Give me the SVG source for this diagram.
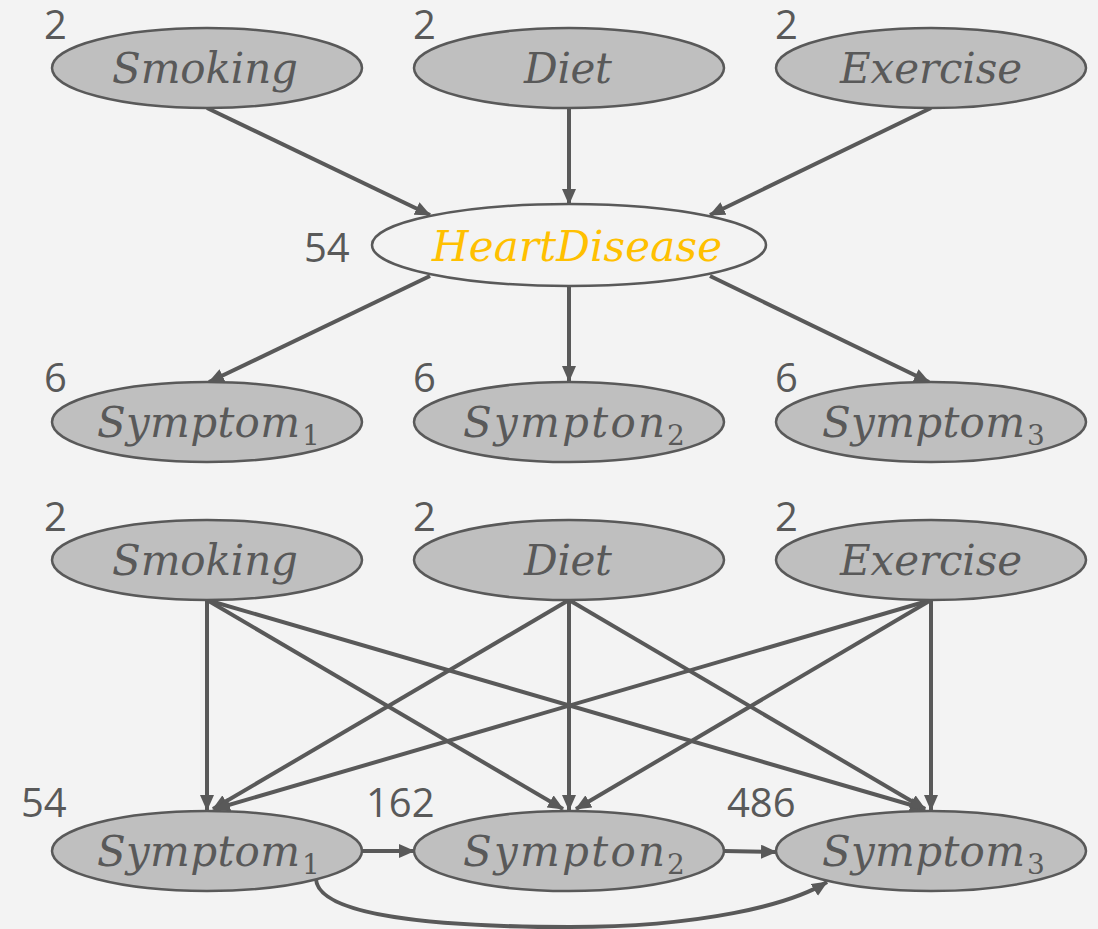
<svg xmlns="http://www.w3.org/2000/svg" width="1098" height="929" viewBox="0 0 1098 929">
  <style>
    .node { fill: #BFBFBF; stroke: #595959; stroke-width: 2.5; }
    .focus { fill: #F3F3F3; stroke: #595959; stroke-width: 2.5; }
    .lbl { font-family: "DejaVu Serif", "Liberation Serif", serif; font-style: italic; font-size: 42px; fill: #595959; }
    .hd { fill: #FFC000; }
    .sub { font-size: 28px; font-style: normal; }
    .num { font-family: "Open Sans", "Noto Sans", "DejaVu Sans", sans-serif; font-size: 40px; fill: #595959; }
    .edge { stroke: #595959; stroke-width: 4; fill: none; }
  </style>
  <defs>
    <marker id="arrow" markerUnits="userSpaceOnUse" markerWidth="16" markerHeight="14" refX="15" refY="7" orient="auto">
      <path d="M0,0 L16,7 L0,14 Z" fill="#595959"/>
    </marker>
  </defs>

  <rect x="0" y="0" width="1098" height="929" fill="#F3F3F3"/>

  <!-- edges -->
  <g id="edges" class="edge" marker-end="url(#arrow)">
    <!-- upper network -->
    <line x1="207" y1="108" x2="430" y2="215"/>
    <line x1="569" y1="108" x2="569" y2="204"/>
    <line x1="931" y1="108" x2="710" y2="215"/>
    <line x1="430" y1="276" x2="209" y2="382"/>
    <line x1="569" y1="287" x2="569" y2="381"/>
    <line x1="710" y1="276" x2="929" y2="382"/>
    <!-- lower network: every factor to every symptom -->
    <line x1="207" y1="600" x2="207" y2="810"/>
    <line x1="207" y1="600" x2="563" y2="809"/>
    <line x1="207" y1="600" x2="925" y2="809"/>
    <line x1="569" y1="600" x2="213" y2="809"/>
    <line x1="569" y1="600" x2="569" y2="810"/>
    <line x1="569" y1="600" x2="925" y2="809"/>
    <line x1="931" y1="600" x2="215" y2="809"/>
    <line x1="931" y1="600" x2="576" y2="809"/>
    <line x1="931" y1="600" x2="931" y2="810"/>
    <!-- chain between symptoms -->
    <line x1="362" y1="851" x2="414" y2="851"/>
    <line x1="724" y1="851" x2="776" y2="852"/>
    <path d="M316,879 C318,915 430,927 570,927 C700,927 790,905 827,882"/>
  </g>

  <!-- upper network nodes -->
  <g id="smoking-a">
    <ellipse class="node" cx="207" cy="68" rx="155" ry="40"/>
    <text class="lbl" x="112" y="83" textLength="186" lengthAdjust="spacing">Smoking</text>
    <text class="num" x="44" y="39">2</text>
  </g>
  <g id="diet-a">
    <ellipse class="node" cx="569" cy="68" rx="155" ry="40"/>
    <text class="lbl" x="524" y="83" textLength="88" lengthAdjust="spacing">Diet</text>
    <text class="num" x="413" y="39">2</text>
  </g>
  <g id="exercise-a">
    <ellipse class="node" cx="931" cy="68" rx="155" ry="40"/>
    <text class="lbl" x="840" y="83" textLength="182" lengthAdjust="spacing">Exercise</text>
    <text class="num" x="775" y="39">2</text>
  </g>
  <g id="heartdisease">
    <ellipse class="focus" cx="569" cy="245" rx="197" ry="41"/>
    <text class="lbl hd" x="432" y="261" textLength="290" lengthAdjust="spacing">HeartDisease</text>
    <text class="num" x="304" y="262">54</text>
  </g>
  <g id="symptom1-a">
    <ellipse class="node" cx="207" cy="422" rx="155" ry="40"/>
    <text class="lbl" x="97" y="437"><tspan textLength="203" lengthAdjust="spacing">Symptom</tspan><tspan class="sub" x="302" y="445">1</tspan></text>
    <text class="num" x="44" y="392">6</text>
  </g>
  <g id="symptom2-a">
    <ellipse class="node" cx="569" cy="422" rx="155" ry="40"/>
    <text class="lbl" x="463" y="437"><tspan textLength="202" lengthAdjust="spacing">Sympton</tspan><tspan class="sub" x="667" y="445">2</tspan></text>
    <text class="num" x="413" y="392">6</text>
  </g>
  <g id="symptom3-a">
    <ellipse class="node" cx="931" cy="422" rx="155" ry="40"/>
    <text class="lbl" x="822" y="437"><tspan textLength="203" lengthAdjust="spacing">Symptom</tspan><tspan class="sub" x="1027" y="445">3</tspan></text>
    <text class="num" x="775" y="392">6</text>
  </g>

  <!-- lower network nodes -->
  <g id="smoking-b">
    <ellipse class="node" cx="207" cy="560" rx="155" ry="40"/>
    <text class="lbl" x="112" y="575" textLength="186" lengthAdjust="spacing">Smoking</text>
    <text class="num" x="44" y="531">2</text>
  </g>
  <g id="diet-b">
    <ellipse class="node" cx="569" cy="560" rx="155" ry="40"/>
    <text class="lbl" x="524" y="575" textLength="88" lengthAdjust="spacing">Diet</text>
    <text class="num" x="413" y="531">2</text>
  </g>
  <g id="exercise-b">
    <ellipse class="node" cx="931" cy="560" rx="155" ry="40"/>
    <text class="lbl" x="840" y="575" textLength="182" lengthAdjust="spacing">Exercise</text>
    <text class="num" x="775" y="531">2</text>
  </g>
  <g id="symptom1-b">
    <ellipse class="node" cx="207" cy="851" rx="155" ry="40"/>
    <text class="lbl" x="97" y="866"><tspan textLength="203" lengthAdjust="spacing">Symptom</tspan><tspan class="sub" x="302" y="874">1</tspan></text>
    <text class="num" x="21" y="817">54</text>
  </g>
  <g id="symptom2-b">
    <ellipse class="node" cx="569" cy="851" rx="155" ry="40"/>
    <text class="lbl" x="463" y="866"><tspan textLength="202" lengthAdjust="spacing">Sympton</tspan><tspan class="sub" x="667" y="874">2</tspan></text>
    <text class="num" x="366" y="817">162</text>
  </g>
  <g id="symptom3-b">
    <ellipse class="node" cx="931" cy="851" rx="155" ry="40"/>
    <text class="lbl" x="822" y="866"><tspan textLength="203" lengthAdjust="spacing">Symptom</tspan><tspan class="sub" x="1027" y="874">3</tspan></text>
    <text class="num" x="727" y="817">486</text>
  </g>
</svg>
